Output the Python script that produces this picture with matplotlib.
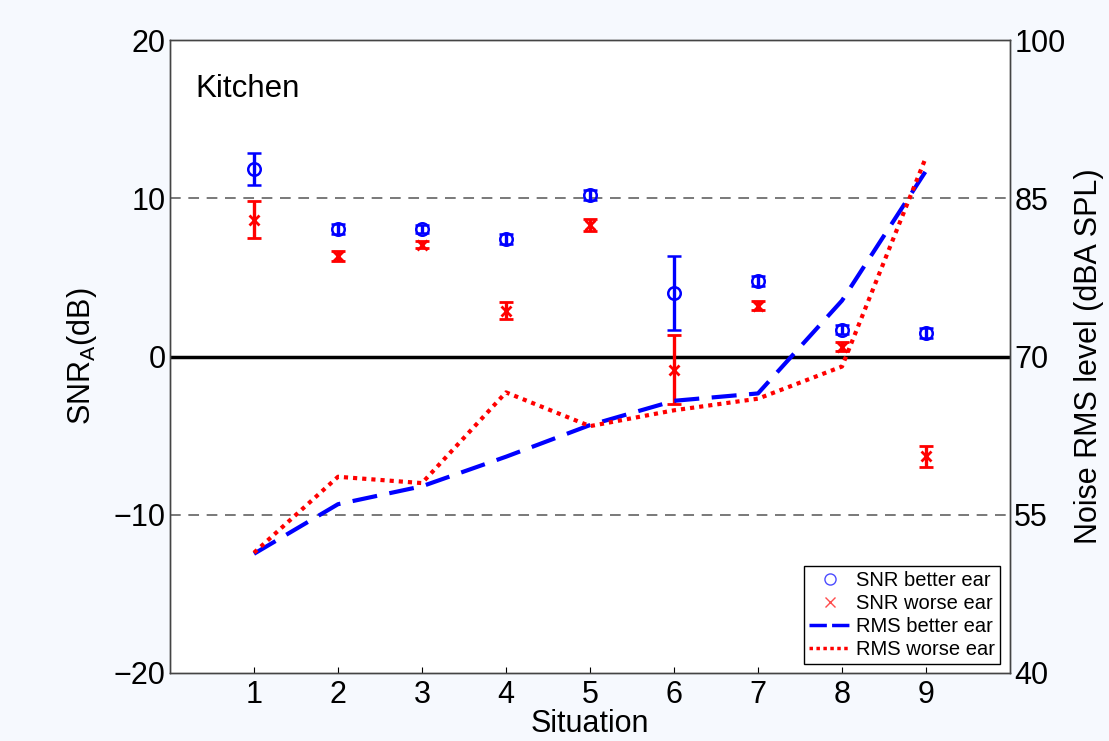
import numpy as np
import matplotlib.pyplot as plt

plt.rcParams['font.family'] = ['Liberation Sans', 'DejaVu Sans']

# Kitchen recordings, situations 1-9
situation = np.arange(1, 10)

snr_better = [11.85, 8.05, 8.05, 7.42, 10.22, 4.02, 4.78, 1.70, 1.50]
snr_better_err = [1.03, 0.30, 0.25, 0.30, 0.30, 2.35, 0.30, 0.30, 0.30]
snr_worse = [8.64, 6.37, 7.07, 2.90, 8.31, -0.83, 3.22, 0.63, -6.31]
snr_worse_err = [1.17, 0.31, 0.22, 0.52, 0.40, 2.20, 0.27, 0.30, 0.66]

rms_better = [51.3, 56.0, 57.7, 60.5, 63.5, 65.8, 66.5, 75.3, 87.6]
rms_worse = [51.4, 58.6, 58.0, 66.6, 63.4, 64.9, 66.0, 69.05, 88.9]

fig = plt.figure(figsize=(11.09, 7.41), dpi=100, facecolor='#f6f9fe')
ax = fig.add_axes([170/1109, 1 - 673/741, 840/1109, 633/741])
ax2 = ax.twinx()

ax.axhline(0, color='black', lw=2.5, zorder=1)
for yv in (10, -10):
    ax.axhline(yv, color='#555555', lw=1.1, ls=(0, (7, 5)), zorder=1)

ax.errorbar(situation, snr_better, yerr=snr_better_err, fmt='o', color='blue',
            mfc='none', ms=9, mew=1.8, elinewidth=2.4, capsize=5, capthick=2.6,
            zorder=3)
ax.errorbar(situation, snr_worse, yerr=snr_worse_err, fmt='x', color='red',
            ms=7, mew=2, elinewidth=2.4, capsize=5, capthick=2.6, zorder=3)

ax2.plot(situation, rms_better, color='blue', lw=3, ls=(0, (6, 3)))
ax2.plot(situation, rms_worse, color='red', lw=3, ls=(0, (1, 1.2)))

ax.set_xlim(0, 10)
ax.set_ylim(-20, 20)
ax2.set_ylim(40, 100)
ax.set_xticks(situation)
ax.set_yticks([-20, -10, 0, 10, 20])
ax.set_yticklabels(['\u221220', '\u221210', '0', '10', '20'])
ax2.set_yticks([40, 55, 70, 85, 100])
ax.tick_params(axis='x', direction='in', length=4, labelsize=22, pad=5)
ax.tick_params(axis='y', length=0, labelsize=22, pad=3)
ax2.tick_params(axis='y', length=0, labelsize=22, pad=3)
for a in (ax, ax2):
    for s in a.spines.values():
        s.set_color('#444444')
        s.set_linewidth(1.0)

ax.set_xlabel('Situation', fontsize=22, labelpad=-1)
ax.set_ylabel('SNR$_\\mathregular{A}$(dB)', fontsize=22, labelpad=11)
ax2.set_ylabel('Noise RMS level (dBA SPL)', fontsize=22, labelpad=6)

ax.text(0.3, 16.9, 'Kitchen', fontsize=22.5, va='center')

# legend entries built from proxy artists
h = [plt.Line2D([], [], ls='none', marker='o', mfc='none', color='blue', ms=8, alpha=0.7),
     plt.Line2D([], [], ls='none', marker='x', color='red', ms=7, alpha=0.7),
     plt.Line2D([], [], color='blue', lw=2.5, ls=(0, (5, 1.5))),
     plt.Line2D([], [], color='red', lw=2.5, ls=(0, (1, 1)))]
labels = ['SNR better ear', 'SNR worse ear', 'RMS better ear', 'RMS worse ear']
leg = ax2.legend(h, labels, loc='lower right', fontsize=14.5, handlelength=2.0,
                 handletextpad=0.3, labelspacing=0.2, borderpad=0.25,
                 borderaxespad=0.3, fancybox=False, framealpha=1,
                 bbox_to_anchor=(0.995, 0.005))
leg.get_frame().set_edgecolor('black')
leg.get_frame().set_linewidth(1.0)

fig.savefig('out.png', dpi=100, facecolor=fig.get_facecolor())
